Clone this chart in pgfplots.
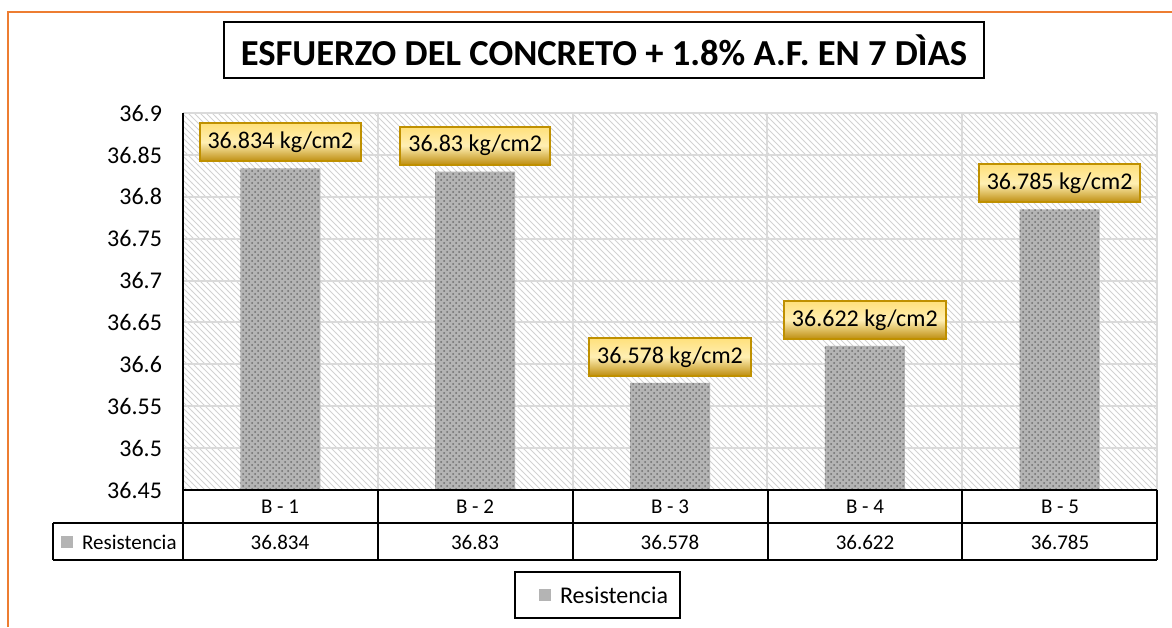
\documentclass[border=0pt]{standalone}
\usepackage{fontspec}
\setmainfont{Carlito}
\usepackage{pgfplots}
\pgfplotsset{compat=1.18}
\usetikzlibrary{patterns}
\definecolor{frameOrange}{HTML}{ED7D31}
\definecolor{gridGrey}{HTML}{DADADA}
\definecolor{hatchGrey}{HTML}{D2D2D2}
\definecolor{barGrey}{HTML}{B4B4B4}
\definecolor{dotGrey}{HTML}{6E6E6E}
\definecolor{goldEdge}{HTML}{BF9000}
\definecolor{goldTop}{HTML}{FFE07A}
\definecolor{goldMid}{HTML}{FFEFB3}
\definecolor{goldBot}{HTML}{BE8E10}

\begin{document}
\begin{tikzpicture}
\begin{axis}[
  at={(91.5pt,-245pt)}, anchor=south west,
  scale only axis, width=487pt, height=188.5pt,
  xmin=-0.5, xmax=4.5,
  ymin=36.45, ymax=36.9,
  ytick={36.45,36.5,...,36.91},
  yticklabels={36.45,36.5,36.55,36.6,36.65,36.7,36.75,36.8,36.85,36.9},
  yticklabel style={font=\fontsize{12}{14}\selectfont, xshift=-7pt},
  xtick={0,...,4}, xticklabels={},
  minor xtick={0.5,1.5,2.5,3.5,4.5},
  xminorgrids=true, ymajorgrids=true,
  grid style={gridGrey, line width=1pt},
  minor grid style={gridGrey, line width=1pt},
  tick style={draw=none},
  axis line style={draw=none},
  axis background/.style={pattern=north west lines, pattern color=hatchGrey},
  /pgf/number format/assume math mode=true,
  ybar, bar width=40pt, bar shift=0pt,
  nodes near coords={\pgfmathprintnumber[precision=3]{\pgfplotspointmeta} kg/cm2},
  every node near coord/.append style={
    font=\fontsize{12}{14}\selectfont, anchor=south, yshift=3pt,
    draw=goldEdge, line width=1pt, top color=goldTop, bottom color=goldBot,
    middle color=goldMid, minimum height=19pt, inner xsep=4pt},
]
\addplot[draw=none, fill=barGrey,
  postaction={pattern=crosshatch dots, pattern color=dotGrey}] coordinates {
  (0,36.834) (1,36.83) (2,36.578) (3,36.622) (4,36.785)
};
\end{axis}
\begin{scope}[x=0.5pt, y=-0.5pt]
  % orange frame
  \draw[frameOrange, line width=1pt] (8,627) -- (8,12) -- (1172,12);
  % title
  \node[draw=black, line width=1pt, minimum width=380pt, minimum height=28pt,
    inner xsep=2pt, font=\bfseries\fontsize{18.3}{22}\selectfont] at (604,50)
    {ESFUERZO DEL CONCRETO + 1.8\% A.F. EN 7 DÌAS};
  % axis left and bottom lines, data table
  \draw[black, line width=0.8pt] (183,113) -- (183,560);
  \draw[black, line width=0.8pt] (183,490) -- (1157,490);
  \draw[black, line width=0.8pt] (53,523) -- (1157,523);
  \draw[black, line width=0.8pt] (53,560) -- (1157,560);
  \draw[black, line width=0.8pt] (53,523) -- (53,560);
  \foreach \xx in {378,573,768,962,1157}
    \draw[black, line width=0.8pt] (\xx,490) -- (\xx,560);
  \foreach \xx/\cat/\val in {280/B - 1/36.834, 475/B - 2/36.83, 670/B - 3/36.578,
      865/B - 4/36.622, 1060/B - 5/36.785} {
    \node[font=\fontsize{10.5}{12}\selectfont] at (\xx,507) {\cat};
    \node[font=\fontsize{10.5}{12}\selectfont] at (\xx,542) {\val};
  }
  \fill[barGrey] (61,536) rectangle (73,548);
  \node[font=\fontsize{10.5}{12}\selectfont, anchor=west] at (75,542) {Resistencia};
  % legend
  \draw[black, line width=1pt] (515,572) rectangle (680,618);
  \fill[barGrey] (539,589) rectangle (551,601);
  \node[font=\fontsize{12}{14}\selectfont, anchor=west] at (553,595) {Resistencia};
\end{scope}
\pgfresetboundingbox
\path[use as bounding box] (0pt,0pt) rectangle (586pt,-313.5pt);
\end{tikzpicture}
\end{document}
